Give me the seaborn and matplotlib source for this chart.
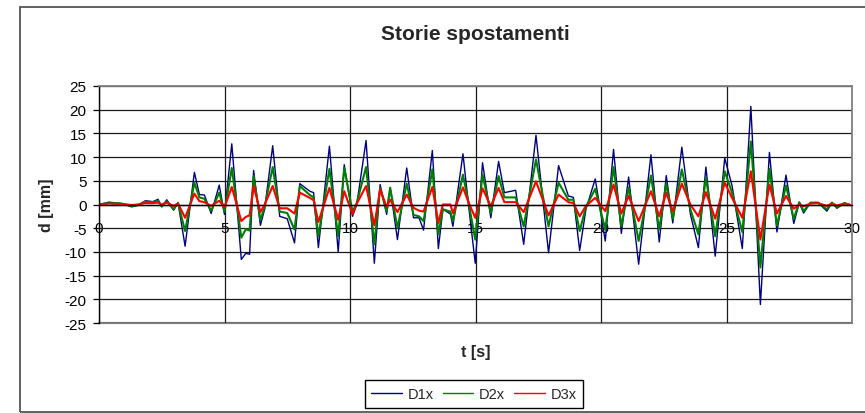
import matplotlib
matplotlib.use("Agg")
import matplotlib.pyplot as plt
from matplotlib.patches import Rectangle
import pandas as pd
import seaborn as sns

# Time instants [s] of the recorded turning points
t = [0.0, 0.4, 0.9, 1.3, 1.55, 1.85, 2.15, 2.35, 2.5, 2.7, 2.97, 3.15,
     3.43, 3.8, 4.0, 4.2, 4.47, 4.79, 5.0, 5.29, 5.67, 5.85, 6.0, 6.16,
     6.43, 6.6, 6.92, 7.2, 7.5, 7.79, 8.0, 8.4, 8.55, 8.74, 9.18, 9.53,
     9.77, 10.1, 10.27, 10.64, 10.97, 11.2, 11.46, 11.6, 11.89, 12.26,
     12.53, 12.75, 12.93, 13.28, 13.52, 13.7, 14.0, 14.1, 14.5, 14.72,
     14.99, 15.28, 15.61, 15.92, 16.15, 16.6, 16.92, 17.41, 17.91, 18.31,
     18.7, 18.9, 19.15, 19.4, 19.77, 20.17, 20.5, 20.81, 21.1, 21.5,
     21.99, 22.32, 22.6, 22.86, 23.22, 23.56, 23.88, 24.18, 24.55, 24.93,
     25.22, 25.63, 25.97, 26.35, 26.71, 27.01, 27.37, 27.68, 27.9, 28.07,
     28.35, 28.65, 29.0, 29.2, 29.4, 29.7, 30.0]

# Displacements [mm]
d1x = [0.0, 0.5, 0.2, -0.5, -0.2, 0.8, 0.6, 1.1, -0.5, 1.0, -1.2, 0.4,
       -8.8, 6.8, 2.1, 2.0, -1.9, 4.1, -2.1, 12.8, -11.6, -10.3, -10.5, 7.2,
       -4.4, -1.0, 12.4, -2.5, -3.0, -8.1, 4.4, 2.8, 2.5, -9.1, 12.3, -10.0,
       8.4, -2.5, 0.0, 13.5, -12.4, 4.2, -2.1, 3.6, -7.4, 7.7,
       -2.8, -2.8, -5.4, 11.4, -9.3, -1.0, -2.0, -4.6, 10.7, 0.0,
       -12.4, 8.8, -2.8, 9.1, 2.5, 3.0, -8.4, 14.6, -10.2, 8.2,
       1.8, 1.5, -9.7, -1.0, 5.4, -7.7, 11.6, -6.1, 5.8, -12.6,
       10.5, -7.9, 6.1, -3.9, 12.1, -2.0, -9.1, 7.9, -10.9, 9.8,
       4.0, -9.3, 20.7, -21.1, 11.0, -5.8, 6.2, -4.0, 0.4, -1.8,
       0.4, 0.4, -1.4, 0.4, -0.8, 0.3, -0.2]

d2x = [0.0, 0.3, 0.2, -0.3, -0.1, 0.6, 0.5, 0.8, -0.4, 0.7, -1.0, 0.3,
       -5.6, 4.6, 1.5, 1.2, -1.3, 2.5, -1.5, 7.7, -7.0, -5.2, -5.5, 6.0,
       -3.3, -0.5, 7.9, -1.5, -1.8, -5.3, 3.9, 2.0, 1.5, -6.7, 7.5, -6.7,
       7.7, -1.5, 0.3, 7.9, -8.4, 3.5, -1.5, 3.5, -4.9, 4.4,
       -2.2, -2.5, -3.5, 7.4, -6.3, -1.0, -1.5, -3.5, 6.3, 0.5,
       -7.4, 6.3, -1.8, 6.0, 1.5, 1.5, -4.6, 9.5, -4.6, 4.6,
       1.0, 1.0, -5.6, -0.5, 3.3, -5.3, 7.9, -4.6, 3.6, -7.7,
       6.1, -5.3, 4.4, -3.0, 7.4, -1.0, -6.3, 5.6, -6.7, 7.0,
       2.5, -5.8, 13.3, -13.3, 7.5, -4.4, 4.0, -3.0, 0.5, -1.4,
       0.4, 0.4, -1.0, 0.4, -0.6, 0.3, -0.2]

d3x = [0.0, 0.2, 0.1, -0.1, 0.0, 0.3, 0.3, 0.4, 0.0, 0.4, -0.3, 0.2,
       -2.8, 2.3, 0.7, 0.5, -0.3, 0.8, -0.6, 3.7, -3.5, -2.6, -2.3, 3.9,
       -1.6, 0.0, 3.9, -0.8, -0.8, -1.9, 2.5, 1.4, 0.9, -3.7, 3.5, -3.2,
       2.8, -2.0, 0.2, 3.9, -4.4, 3.2, -0.5, 1.0, -1.6, 2.1,
       -0.7, -1.3, -1.5, 3.7, -3.9, 0.0, 0.0, -1.8, 3.6, 0.5,
       -2.8, 3.4, -0.4, 3.5, 0.5, 0.5, -1.6, 4.9, -2.3, 2.1,
       0.5, 0.3, -2.5, -0.3, 1.4, -1.4, 4.2, -1.9, 1.8, -3.5,
       2.8, -2.5, 2.5, -1.4, 4.4, 0.0, -2.5, 2.6, -3.0, 4.6,
       1.4, -2.8, 7.0, -7.4, 4.2, -1.9, 1.8, -0.9, 0.0, -0.4,
       0.2, 0.3, -0.3, 0.2, -0.2, 0.2, -0.2]

series_names = ["D1x", "D2x", "D3x"]
series_colors = ["#000080", "#008000", "#FF0000"]
series_widths = [1.0, 1.5, 1.5]

x_ticks = [0, 5, 10, 15, 20, 25, 30]
y_ticks = [-25, -20, -15, -10, -5, 0, 5, 10, 15, 20, 25]

df = pd.DataFrame({
    "t": t * 3,
    "d": d1x + d2x + d3x,
    "serie": [n for n in series_names for _ in t],
})

sns.set_theme(style="white")
plt.rcParams["font.family"] = ["Liberation Sans", "DejaVu Sans"]

W, H = 865, 414
fig = plt.figure(figsize=(W / 100, H / 100), dpi=100)
ax = fig.add_axes([99 / W, 1 - 324 / H, 753 / W, 237 / H])

sns.lineplot(data=df, x="t", y="d", hue="serie", hue_order=series_names,
             palette=series_colors, sort=False, estimator=None,
             legend=False, ax=ax)
for line, lw in zip(ax.lines, series_widths):
    line.set_linewidth(lw)
    line.set_solid_joinstyle("round")

ax.set_xlim(0, 30)
ax.set_ylim(-25, 25)
ax.set_xticks(x_ticks)
ax.set_yticks(y_ticks)
ax.set_xticklabels([str(v) for v in x_ticks])
ax.set_yticklabels([str(v) for v in y_ticks])

ax.grid(True, color="#1a1a1a", linewidth=0.9)
ax.set_axisbelow(True)

# x axis crosses at zero, plot area framed in gray
ax.spines["bottom"].set_position(("data", 0))
ax.spines["bottom"].set_color("black")
ax.spines["bottom"].set_linewidth(1.0)
ax.spines["left"].set_color("black")
ax.spines["left"].set_linewidth(1.0)
for s in ("top", "right"):
    ax.spines[s].set_color("#808080")
    ax.spines[s].set_linewidth(1.3)
ax.axhline(-25, color="#808080", linewidth=1.6, clip_on=False, zorder=0.5)

ax.tick_params(axis="x", length=0, pad=12, labelsize=11, colors="black")
ax.tick_params(axis="y", length=4, width=0.9, pad=5, labelsize=11,
               colors="black", direction="out", left=True)

ax.set_xlabel("")
ax.set_ylabel("")
fig.text((99 + 852) / 2 / W, 1 - 35 / H, "Storie spostamenti",
         ha="center", va="center", fontsize=15, fontweight="bold")
fig.text((99 + 852) / 2 / W, 1 - 353 / H, "t [s]",
         ha="center", va="center", fontsize=11.5, fontweight="bold")
fig.text(46 / W, 1 - 205 / H, "d [mm]", rotation=90,
         ha="center", va="center", fontsize=11.5, fontweight="bold")

leg = fig.legend(ax.lines[:3], series_names, loc="center",
                 bbox_to_anchor=(474 / W, 1 - 395 / H), ncol=3,
                 frameon=True, fancybox=False, framealpha=1,
                 edgecolor="black", fontsize=10.5, handlelength=2.1,
                 handletextpad=0.4, columnspacing=0.6, borderpad=0.45)
leg.get_frame().set_linewidth(1.0)
for h in leg.get_lines():
    h.set_linewidth(1.0)

# outer chart frame
fig.patches.append(Rectangle((20 / W, 1 - 413 / H), 1.2, (413 - 8) / H,
                             transform=fig.transFigure, fill=False,
                             edgecolor="#555555", linewidth=1.3))

fig.savefig("out.png", dpi=100)
